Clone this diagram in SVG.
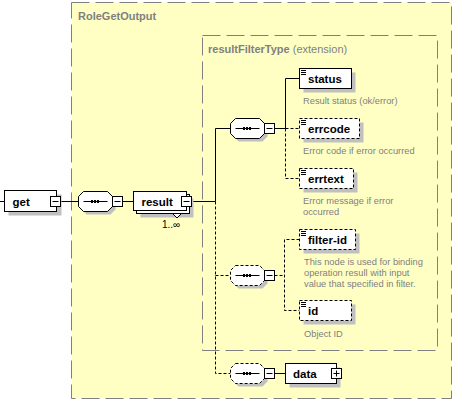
<svg xmlns="http://www.w3.org/2000/svg" width="454" height="403" viewBox="0 0 454 403">
<style>
.box{fill:#ffffc4;stroke:#808080;stroke-width:1;stroke-dasharray:18,6}
.title{font-family:"Liberation Sans",Arial,sans-serif;font-size:11px;font-weight:bold;fill:#808080}
.ext{font-family:"Liberation Sans",Arial,sans-serif;font-size:11px;fill:#808080}
.el{fill:#fff;stroke:#000;stroke-width:1}
.opt{fill:#fff;stroke:#000;stroke-width:1;stroke-dasharray:3,2}
.sh{fill:#c0c0c0}
.name{font-family:"Liberation Sans",Arial,sans-serif;font-size:11.5px;font-weight:bold;fill:#000}
.desc{font-family:"Liberation Sans",Arial,sans-serif;font-size:9.3px;fill:#808080}
.card{font-family:"Liberation Sans",Arial,sans-serif;font-size:10px;fill:#000}
.ln{stroke:#000;stroke-width:1;fill:none}
.dl{stroke:#000;stroke-width:1;fill:none;stroke-dasharray:3,2}
.btn{fill:#fff;stroke:#000;stroke-width:1}
</style>
<defs>
<polygon id="oct" points="5,0 29,0 34,5 34,15 29,20 5,20 0,15 0,5"/>
<g id="seqmark">
<line x1="5" y1="10" x2="29" y2="10" stroke="#000" stroke-width="1"/>
<rect x="12.5" y="8.5" width="2" height="3" fill="#000"/>
<rect x="15.5" y="8.5" width="2" height="3" fill="#000"/>
<rect x="18.5" y="8.5" width="2" height="3" fill="#000"/>
</g>
<g id="minus"><rect class="btn" x="0" y="0" width="10" height="10"/><line x1="2" y1="5" x2="8" y2="5" stroke="#000"/></g>
<g id="plus"><rect class="btn" x="0" y="0" width="10" height="10"/><line x1="2" y1="5" x2="8" y2="5" stroke="#000"/><line x1="5" y1="2" x2="5" y2="8" stroke="#000"/></g>
<g id="doc"><line x1="0" y1="0.5" x2="5" y2="0.5" stroke="#000"/><line x1="0" y1="2.5" x2="5" y2="2.5" stroke="#000"/><line x1="0" y1="4.5" x2="5" y2="4.5" stroke="#000"/></g>
</defs>

<g id="RoleGetOutput">
<rect class="box" x="71.5" y="2.5" width="380" height="396"/>
<text class="title" x="78" y="20">RoleGetOutput</text>
</g>
<g id="resultFilterType">
<rect class="box" x="202.5" y="35.5" width="235" height="315"/>
<text x="208" y="53"><tspan class="title">resultFilterType</tspan><tspan class="ext"> (extension)</tspan></text>
</g>

<g id="connectors">
<line class="ln" x1="0" y1="201.5" x2="4.5" y2="201.5"/>
<line class="ln" x1="60.5" y1="201.5" x2="78.5" y2="201.5"/>
<line class="ln" x1="122.5" y1="201.5" x2="133.5" y2="201.5"/>
<line class="ln" x1="191.5" y1="201.5" x2="215.5" y2="201.5"/>
<polyline class="ln" points="215.5,201.5 215.5,128.5 230.5,128.5"/>
<polyline class="dl" points="215.5,201.5 215.5,373.5 230.5,373.5"/>
<line class="dl" x1="215.5" y1="275.5" x2="230.5" y2="275.5"/>
<line class="ln" x1="274.5" y1="128.5" x2="285.5" y2="128.5"/>
<polyline class="ln" points="285.5,128.5 285.5,78.5 299.5,78.5"/>
<polyline class="dl" points="285.5,128.5 285.5,178.5 299.5,178.5"/>
<line class="dl" x1="285.5" y1="128.5" x2="299.5" y2="128.5"/>
<line class="dl" x1="274.5" y1="275.5" x2="284.5" y2="275.5"/>
<polyline class="dl" points="299.5,239.5 284.5,239.5 284.5,310.5 299.5,310.5"/>
<line class="ln" x1="274.5" y1="373.5" x2="285.5" y2="373.5"/>
</g>

<g id="get">
<rect class="sh" x="8.5" y="194.5" width="53" height="21"/>
<rect class="el" x="4.5" y="190.5" width="52" height="21"/>
<text class="name" x="12.5" y="205.5">get</text>
<use href="#minus" x="50.5" y="196.5"/>
</g>

<g id="seq1">
<use href="#oct" class="sh" x="81.5" y="194.5"/>
<use href="#oct" class="el" x="78.5" y="191.5"/>
<use href="#seqmark" x="78.5" y="191.5"/>
<use href="#minus" x="112.5" y="196.5"/>
</g>

<g id="result">
<rect class="sh" x="140.5" y="198.5" width="53" height="19"/>
<rect class="el" x="136.5" y="194.5" width="53" height="19"/>
<polygon class="el" points="172.5,213.5 181.5,213.5 177,218"/>
<rect class="el" x="133.5" y="191.5" width="53" height="19"/>
<text class="name" x="141.5" y="205.5">result</text>
<use href="#minus" x="181.5" y="196.5"/>
<text class="card" x="162" y="228">1..∞</text>
</g>

<g id="seq2">
<use href="#oct" class="sh" x="233.5" y="121.5"/>
<use href="#oct" class="el" x="230.5" y="118.5"/>
<use href="#seqmark" x="230.5" y="118.5"/>
<use href="#minus" x="264.5" y="123.5"/>
</g>

<g id="status">
<rect class="sh" x="303.5" y="72.5" width="52" height="20"/>
<rect class="el" x="299.5" y="68.5" width="52" height="20"/>
<use href="#doc" x="301" y="70"/>
<text class="name" x="308" y="83">status</text>
<text class="desc" x="303" y="104">Result status (ok/error)</text>
</g>

<g id="errcode">
<rect class="sh" x="303.5" y="122.5" width="60" height="20"/>
<rect class="opt" x="299.5" y="118.5" width="60" height="20"/>
<use href="#doc" x="301" y="120"/>
<text class="name" x="308" y="133">errcode</text>
<text class="desc" x="303" y="154">Error code if error occurred</text>
</g>

<g id="errtext">
<rect class="sh" x="303.5" y="172.5" width="54" height="20"/>
<rect class="opt" x="299.5" y="168.5" width="54" height="20"/>
<use href="#doc" x="301" y="170"/>
<text class="name" x="308" y="183">errtext</text>
<text class="desc" x="303" y="204">Error message if error</text>
<text class="desc" x="303" y="215">occurred</text>
</g>

<g id="seq3">
<use href="#oct" class="sh" x="233.5" y="268.5"/>
<use href="#oct" class="opt" x="230.5" y="265.5"/>
<use href="#seqmark" x="230.5" y="265.5"/>
<use href="#minus" x="264.5" y="270.5"/>
</g>

<g id="filter-id">
<rect class="sh" x="303.5" y="233.5" width="56" height="20"/>
<rect class="opt" x="299.5" y="229.5" width="56" height="20"/>
<use href="#doc" x="301" y="231"/>
<text class="name" x="308" y="244">filter-id</text>
<text class="desc" x="304" y="265">This node is used for binding</text>
<text class="desc" x="304" y="276">operation resull with input</text>
<text class="desc" x="304" y="287">value that specified in filter.</text>
</g>

<g id="id">
<rect class="sh" x="303.5" y="304.5" width="52" height="20"/>
<rect class="opt" x="299.5" y="300.5" width="52" height="20"/>
<use href="#doc" x="301" y="302"/>
<text class="name" x="308" y="315">id</text>
<text class="desc" x="304" y="336.5">Object ID</text>
</g>

<g id="seq4">
<use href="#oct" class="sh" x="233.5" y="366.5"/>
<use href="#oct" class="opt" x="230.5" y="363.5"/>
<use href="#seqmark" x="230.5" y="363.5"/>
<use href="#minus" x="264.5" y="368.5"/>
</g>

<g id="data">
<rect class="sh" x="289.5" y="367.5" width="51" height="20"/>
<rect class="el" x="285.5" y="363.5" width="51" height="20"/>
<text class="name" x="293" y="378">data</text>
<use href="#plus" x="331.5" y="368.5"/>
</g>
</svg>
